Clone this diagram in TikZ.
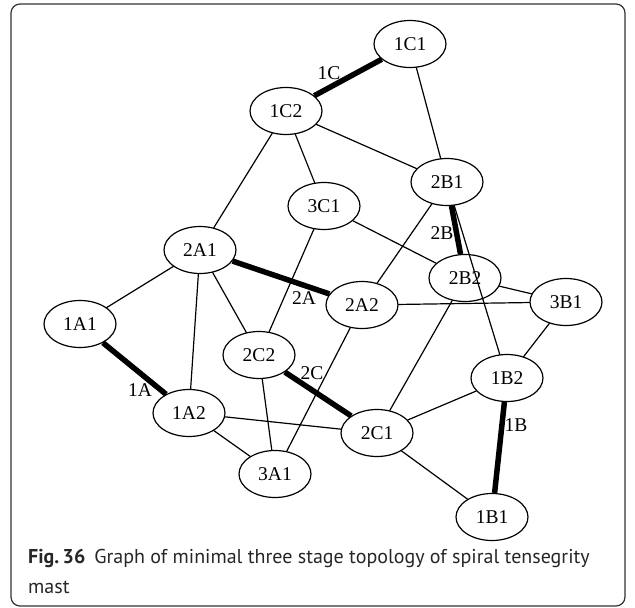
\documentclass[tikz,border=0pt]{standalone}
\usepackage{fontspec}
\setmainfont{Liberation Serif}
\newfontfamily\capfont{PT Sans}
\usetikzlibrary{shapes.geometric}
\begin{document}
\begin{tikzpicture}[
    x=1pt,y=-1pt,
    line cap=round,line join=round,
    joint/.style={draw,ellipse,minimum width=72pt,minimum height=47pt,
        inner sep=0pt,line width=1.2pt,font=\fontsize{19.5}{19.5}\selectfont},
    cable/.style={line width=1.2pt},
    bar/.style={line width=5.5pt,line cap=butt},
    barlabel/.style={inner sep=0pt,font=\fontsize{19.5}{19.5}\selectfont},
    caption/.style={anchor=base west,inner sep=0pt,text=black!85,
        font=\capfont\fontsize{20}{20}\selectfont}
]
    \useasboundingbox (0,0) rectangle (635,608);
    \draw[line width=1.2pt,rounded corners=9pt,black!80] (11,4) rectangle (625,606);
    % joints
    \node[joint] (1C1) at (410,44) {1C1};
    \node[joint] (1C2) at (286,111) {1C2};
    \node[joint] (2B1) at (447,182) {2B1};
    \node[joint] (3C1) at (324,206) {3C1};
    \node[joint] (2A1) at (200,250) {2A1};
    \node[joint] (2B2) at (465,278) {2B2};
    \node[joint] (2A2) at (362,305) {2A2};
    \node[joint] (3B1) at (566,302) {3B1};
    \node[joint] (1A1) at (80,324) {1A1};
    \node[joint] (2C2) at (259,355) {2C2};
    \node[joint] (1B2) at (507,378) {1B2};
    \node[joint] (1A2) at (189,413) {1A2};
    \node[joint] (2C1) at (377,433) {2C1};
    \node[joint] (3A1) at (275,474) {3A1};
    \node[joint] (1B1) at (492,517) {1B1};
    % cables
    \foreach \a/\b in {1C1/2B1,1C2/2A1,1C2/3C1,1C2/2B1,2B1/2A2,2B1/1B2,
        3C1/2B2,3C1/2C2,2A1/1A1,2A1/1A2,2A1/2C2,2A2/3B1,2A2/3A1,
        2B2/3B1,2B2/2C1,3B1/1B2,1B2/2C1,2C1/1B1,2C1/1A2,2C2/3A1,1A2/3A1}
        \draw[cable] (\a) -- (\b);
    % bars
    \foreach \a/\b in {1C1/1C2,2B1/2B2,2A1/2A2,1B2/1B1,2C2/2C1,1A1/1A2}
        \draw[bar] (\a) -- (\b);
    \node[barlabel] (l1C) at (329,73) {1C};
    \node[barlabel] (l2B) at (442,233) {2B};
    \node[barlabel] (l2A) at (304,298) {2A};
    \node[barlabel] (l2C) at (312,373) {2C};
    \node[barlabel] (l1A) at (140,390) {1A};
    \node[barlabel] (l1B) at (516,425) {1B};
    % caption
    \node[caption] (cap1) at (28,563)
        {\textbf{Fig.\,36}\hspace{0.45em}Graph of minimal three stage topology of spiral tensegrity};
    \node[caption] (cap2) at (28,593) {mast};
\end{tikzpicture}
\end{document}
